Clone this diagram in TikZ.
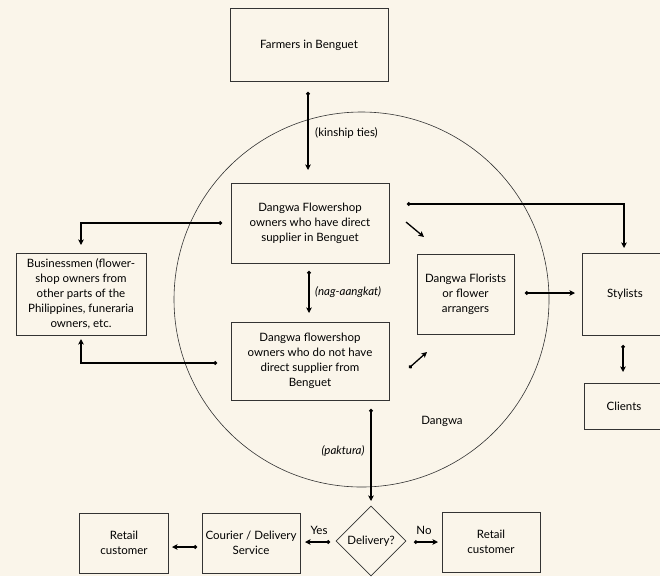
\documentclass[tikz,border=0pt]{standalone}
\usepackage{fontspec}
\setmainfont{Lato}
\usetikzlibrary{arrows.meta,shapes.geometric}
\definecolor{bgc}{HTML}{FAF5EA}
\definecolor{linec}{HTML}{333333}
\begin{document}
\begin{tikzpicture}[x=1pt,y=-1pt,
  font=\fontsize{11.5}{15}\selectfont,
  box/.style={draw=linec, line width=0.6pt, align=center, inner sep=0pt},
  arr/.style={line width=1.3pt, {Circle[length=3.6pt]}-{Stealth[length=5.5pt,width=5.5pt,inset=1.2pt]}},
  arrnd/.style={line width=1.3pt, -{Stealth[length=5.5pt,width=5.5pt,inset=1.2pt]}},
  lbl/.style={inner sep=1pt}
]
\useasboundingbox (0,0) rectangle (660,576);
\fill[bgc] (0,0) rectangle (660,576);

\draw[linec, line width=0.6pt] (361.5,299.5) circle[radius=187.5];
\node[lbl] (dangwa) at (442,421) {Dangwa};

\node[box, minimum width=158, minimum height=73] (farm) at (309,45) {Farmers in Benguet};
\node[box, minimum width=158, minimum height=80] (df1) at (310,223) {Dangwa Flowershop\\owners who have direct\\supplier in Benguet};
\node[box, minimum width=158, minimum height=78] (df2) at (310,361) {Dangwa flowershop\\owners who do not have\\direct supplier from\\Benguet};
\node[box, minimum width=97, minimum height=80] (flor) at (465.5,294) {Dangwa Florists\\or flower\\arrangers};
\node[box, minimum width=86, minimum height=82] (styl) at (625,294) {Stylists};
\node[box, minimum width=80, minimum height=46] (cli) at (624,406) {Clients};
\node[box, minimum width=130, minimum height=82] (bus) at (81,294) {Businessmen (flower-\\shop owners from\\other parts of the\\Philippines, funeraria\\owners, etc.};
\node[box, minimum width=98, minimum height=60] (cour) at (251,543) {Courier / Delivery\\Service};
\node[box, minimum width=89, minimum height=60] (retl) at (124,543) {Retail\\customer};
\node[box, minimum width=98, minimum height=60] (retr) at (491,542) {Retail\\customer};
\node[box, diamond, minimum width=70, minimum height=70] (deliv) at (371,541) {Delivery?};

% connector end points
\coordinate (k1) at (308,92);   \coordinate (k2) at (308,170);
\coordinate (n1) at (309,271);  \coordinate (n2) at (309,313);
\coordinate (lt1) at (222,223); \coordinate (lt2) at (81,245);
\coordinate (lb1) at (217,363); \coordinate (lb2) at (81,339);
\coordinate (rt1) at (407,204); \coordinate (rt2) at (624,248);
\coordinate (d1a) at (406,222); \coordinate (d1b) at (424,237);
\coordinate (d2a) at (409,368); \coordinate (d2b) at (427,352);
\coordinate (fs1) at (525,293); \coordinate (fs2) at (575,293);
\coordinate (sc1) at (623,345); \coordinate (sc2) at (623,372);
\coordinate (p1) at (371,409);  \coordinate (p2) at (371,501);
\coordinate (y1) at (330,542);  \coordinate (y2) at (305,542);
\coordinate (no1) at (414,542); \coordinate (no2) at (438,542);
\coordinate (r1) at (197,547);  \coordinate (r2) at (172,547);

\draw[arr] (k1) -- (k2);
\node[lbl, anchor=west] (kin) at (314,133) {(kinship ties)};
\draw[arr] (n1) -- (n2);
\node[lbl, anchor=west] (nag) at (314,292) {\itshape (nag-aangkat)};
\draw[arr] (lt1) -| (lt2);
\draw[arr] (lb1) -| (lb2);
\draw[arr] (rt1) -| (rt2);
\draw[arrnd] (d1a) -- (d1b);
\draw[arr] (d2a) -- (d2b);
\draw[arr] (fs1) -- (fs2);
\draw[arr] (sc1) -- (sc2);
\draw[arr] (p1) -- (p2);
\node[lbl] (pak) at (343,451) {\itshape (paktura)};
\draw[arr] (y1) -- (y2);
\node[lbl] (yes) at (319,530) {Yes};
\draw[arr] (no1) -- (no2);
\node[lbl] (no) at (424,530) {No};
\draw[arr] (r1) -- (r2);
\end{tikzpicture}
\end{document}
